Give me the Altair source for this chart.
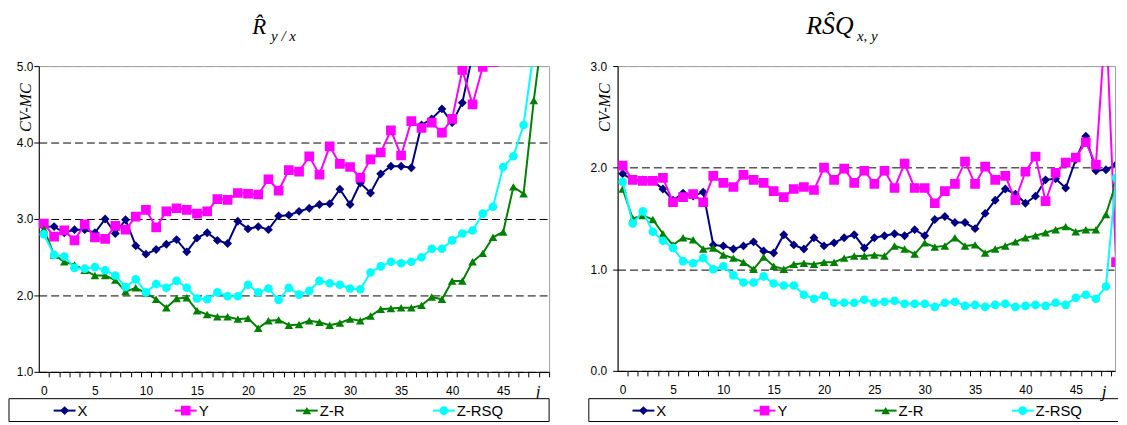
import altair as alt
import pandas as pd

# ---------------- data ----------------
J = list(range(50))
SERIES = ["X", "Y", "Z-R", "Z-RSQ"]

left_X = [2.90, 2.90, 2.82, 2.86, 2.86, 2.82, 3.00, 2.81, 2.99, 2.65,
          2.54, 2.60, 2.67, 2.73, 2.57, 2.75, 2.82, 2.72, 2.68, 2.97,
          2.87, 2.90, 2.86, 3.04, 3.05, 3.10, 3.14, 3.19, 3.20, 3.39,
          3.19, 3.47, 3.34, 3.59, 3.69, 3.69, 3.67, 4.23, 4.31, 4.44,
          4.26, 4.52, 5.15, 5.60, 6.00, 6.50, 7.00, 7.60, 8.20, 9.00]
left_Y = [2.94, 2.77, 2.85, 2.72, 2.93, 2.76, 2.74, 2.91, 2.86, 3.03,
          3.12, 2.89, 3.10, 3.14, 3.12, 3.07, 3.10, 3.26, 3.25, 3.34,
          3.33, 3.32, 3.52, 3.37, 3.64, 3.62, 3.82, 3.58, 3.95, 3.72,
          3.68, 3.54, 3.78, 3.87, 4.16, 3.83, 4.28, 4.19, 4.26, 4.13,
          4.31, 4.95, 4.50, 4.99, 5.05, 5.40, 5.80, 6.20, 6.60, 7.00]
left_ZR = [2.87, 2.53, 2.44, 2.40, 2.33, 2.26, 2.26, 2.20, 2.05, 2.10,
           2.03, 1.95, 1.84, 1.96, 1.97, 1.80, 1.75, 1.72, 1.72, 1.69,
           1.70, 1.57, 1.67, 1.68, 1.61, 1.62, 1.67, 1.65, 1.61, 1.64,
           1.69, 1.67, 1.73, 1.82, 1.83, 1.84, 1.84, 1.87, 1.98, 1.95,
           2.19, 2.19, 2.44, 2.55, 2.76, 2.83, 3.42, 3.33, 4.55, 5.60]
left_ZRSQ = [2.80, 2.53, 2.51, 2.36, 2.35, 2.37, 2.33, 2.26, 2.11, 2.21,
             2.04, 2.15, 2.10, 2.19, 2.10, 1.96, 1.95, 2.04, 1.99, 1.99,
             2.14, 2.04, 2.09, 1.94, 2.10, 2.01, 2.06, 2.19, 2.16, 2.14,
             2.09, 2.08, 2.30, 2.38, 2.44, 2.42, 2.44, 2.50, 2.61, 2.61,
             2.72, 2.81, 2.85, 3.07, 3.16, 3.68, 3.82, 4.23, 5.20, 6.50]

right_X = [1.94, 1.88, 1.88, 1.87, 1.79, 1.68, 1.75, 1.72, 1.76, 1.24,
           1.23, 1.20, 1.23, 1.27, 1.18, 1.16, 1.34, 1.24, 1.20, 1.31,
           1.23, 1.26, 1.31, 1.34, 1.21, 1.31, 1.33, 1.35, 1.33, 1.39,
           1.33, 1.49, 1.52, 1.46, 1.46, 1.40, 1.55, 1.68, 1.79, 1.74,
           1.65, 1.72, 1.88, 1.89, 1.80, 2.08, 2.31, 1.97, 1.98, 2.03]
right_Y = [2.02, 1.88, 1.87, 1.87, 1.90, 1.66, 1.71, 1.74, 1.66, 1.92,
           1.85, 1.81, 1.93, 1.88, 1.85, 1.77, 1.71, 1.79, 1.81, 1.78,
           2.00, 1.88, 1.99, 1.85, 1.97, 1.84, 1.97, 1.80, 2.04, 1.80,
           1.80, 1.65, 1.77, 1.84, 2.06, 1.84, 2.01, 1.88, 1.92, 1.68,
           1.96, 2.11, 1.67, 1.95, 2.05, 2.10, 2.25, 2.03, 3.50, 1.07]
right_ZR = [1.79, 1.50, 1.53, 1.49, 1.35, 1.24, 1.31, 1.29, 1.20, 1.21,
            1.14, 1.11, 1.07, 1.00, 1.12, 1.03, 1.00, 1.05, 1.06, 1.05,
            1.07, 1.07, 1.11, 1.13, 1.13, 1.14, 1.13, 1.23, 1.20, 1.15,
            1.26, 1.22, 1.23, 1.31, 1.23, 1.24, 1.16, 1.20, 1.23, 1.27,
            1.31, 1.33, 1.36, 1.39, 1.42, 1.37, 1.39, 1.39, 1.54, 1.85]
right_ZRSQ = [1.86, 1.45, 1.57, 1.37, 1.28, 1.21, 1.08, 1.06, 1.11, 1.00,
              1.03, 0.94, 0.87, 0.87, 0.93, 0.86, 0.84, 0.84, 0.75, 0.71,
              0.74, 0.67, 0.67, 0.67, 0.70, 0.67, 0.68, 0.69, 0.66, 0.66,
              0.66, 0.63, 0.67, 0.68, 0.64, 0.65, 0.63, 0.65, 0.66, 0.63,
              0.64, 0.65, 0.64, 0.67, 0.65, 0.72, 0.75, 0.71, 0.83, 1.90]

left_y_ticks = [1, 2, 3, 4, 5]
right_y_ticks = [0, 1, 2, 3]

# ---------------- style ----------------
COL = {"X": "#000080", "Y": "#FF00FF", "Z-R": "#008000", "Z-RSQ": "#00FFFF"}
SHAPE = {"X": "diamond", "Y": "square", "Z-R": "triangle-up", "Z-RSQ": "circle"}
SIZE = {"X": 80, "Y": 95, "Z-R": 75, "Z-RSQ": 75}
SANS = "Liberation Sans"
SERIF = "Liberation Serif"


def txt(s, x, y, size, font=SERIF, style="italic", align="left",
        baseline="alphabetic", angle=None):
    kw = dict(align=align, baseline=baseline, font=font, fontSize=size,
              fontStyle=style, color="black")
    if angle is not None:
        kw["angle"] = angle
    return alt.Chart(pd.DataFrame({"t": [s]})).mark_text(**kw).encode(
        x=alt.value(x), y=alt.value(y), text="t:N")


def one():
    return pd.DataFrame({"a": [0]})


def panel(values, ymin, ymax, yticks, xmax, width, height, ylabpad,
          title_layers, right_cut=False):
    step = width / (xmax + 0.5)
    xsc = alt.Scale(domain=[-0.5, xmax], nice=False, zero=False)
    ysc = alt.Scale(domain=[ymin, ymax], nice=False, zero=False)
    xaxis = alt.Axis(values=J, labelExpr="datum.value % 5 == 0 ? datum.label : ''",
                     format="d", tickOffset=step / 2, labelOffset=-step / 2,
                     tickSize=5, tickColor="black", domainColor="black",
                     labelFont=SANS, labelFontSize=12, labelColor="black",
                     labelPadding=9, labelAngle=0, labelOverlap=False,
                     labelFlush=False, grid=False, title=None)
    yaxis = alt.Axis(values=yticks, format=".1f", tickSize=5, tickColor="black",
                     domainColor="black", labelFont=SANS, labelFontSize=12,
                     labelColor="black", labelPadding=ylabpad, grid=True,
                     gridDash=[8, 4], gridWidth=1,
                     gridColor={"condition": {"test": f"datum.value >= {ymax}",
                                              "value": "#A0A0A0"},
                                "value": "#000000"},
                     title=None)
    layers = []
    for name, vals in zip(SERIES, values):
        d = pd.DataFrame({"j": J, "v": vals})
        base = alt.Chart(d).encode(
            x=alt.X("j:Q", scale=xsc, axis=xaxis),
            y=alt.Y("v:Q", scale=ysc, axis=yaxis))
        layers.append(base.mark_line(color=COL[name], strokeWidth=2, clip=True))
        layers.append(base.mark_point(shape=SHAPE[name], size=SIZE[name],
                                      filled=True, color=COL[name], opacity=1,
                                      strokeWidth=0, clip=True))
    # y title
    layers.append(txt("CV-MC", -13, 42, 16, align="center", baseline="middle",
                      angle=270))
    # x title
    layers.append(txt("j", width - 11, 333, 17, align="center"))
    # legend box
    by1, by2 = 335, 358
    if right_cut:
        for yy in (by1, by2):
            layers.append(alt.Chart(one()).mark_rule(color="black", strokeWidth=1)
                          .encode(x=alt.value(-29), x2=alt.value(504), y=alt.value(yy)))
        layers.append(alt.Chart(one()).mark_rule(color="black", strokeWidth=1)
                      .encode(x=alt.value(-29), y=alt.value(by1), y2=alt.value(by2)))
    else:
        layers.append(alt.Chart(one()).mark_rect(fill="white", stroke="black",
                                                 strokeWidth=1)
                      .encode(x=alt.value(-30), x2=alt.value(width),
                              y=alt.value(by1), y2=alt.value(by2)))
    # legend entries
    offs = [15, 137, 259, 397]
    ly = 347
    for name, o in zip(SERIES, offs):
        layers.append(alt.Chart(one()).mark_rule(color=COL[name], strokeWidth=2)
                      .encode(x=alt.value(o), x2=alt.value(o + 22), y=alt.value(ly)))
        layers.append(alt.Chart(one()).mark_point(shape=SHAPE[name], size=SIZE[name],
                                                  filled=True, color=COL[name],
                                                  opacity=1, strokeWidth=0)
                      .encode(x=alt.value(o + 11), y=alt.value(ly)))
        layers.append(txt(name, o + 24, ly, 15, font=SANS, style="normal",
                          baseline="middle"))
    layers.extend(title_layers)
    return alt.layer(*layers).properties(width=width, height=height)


left_title = [
    txt("R\u0302", 215, -32, 23),
    txt("y / x", 234, -25, 15),
]
right_title = [
    txt("RS\u0302Q", 190, -32, 26),
    txt("x, y", 241, -25, 15),
]

left = panel([left_X, left_Y, left_ZR, left_ZRSQ], 1, 5, left_y_ticks, 49.5,
             514, 308, 1, left_title)
right = panel([right_X, right_Y, right_ZR, right_ZRSQ], 0, 3, right_y_ticks, 48.9,
              501, 307, 6, right_title, right_cut=True)

chart = alt.hconcat(left, right, spacing=69, bounds="flush").properties(
    padding={"left": 0, "top": 3, "right": 0, "bottom": 0}
).configure_view(stroke="#A0A0A0", strokeWidth=1)

chart.save("out.html", embed_options={"renderer": "svg", "actions": False})
